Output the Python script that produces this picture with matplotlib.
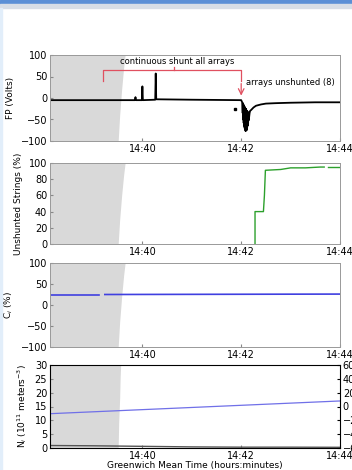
import matplotlib
matplotlib.use("Agg")
import matplotlib.pyplot as plt
from matplotlib.patches import Rectangle

# time in minutes after 14:00
xlim = (38.13, 44.0)
xticks = [40, 42, 44]
xticklabels = ["14:40", "14:42", "14:44"]

# shaded (eclipse) region boundary: (y fraction of axis, time)
shade_frac = [0.0, 0.3, 0.6, 0.85, 1.0]
shade_t1 = [39.51, 39.54, 39.58, 39.62, 39.65]
shade_t_other = [39.51, 39.52, 39.54, 39.55, 39.56]

# Panel 1: floating potential
fp_t = [38.13, 39.0, 39.85, 39.86, 39.87, 39.99, 40.0, 40.01, 40.26, 40.27, 40.28, 41.0, 42.0,
        42.02, 42.03, 42.035, 42.04, 42.045, 42.05, 42.055, 42.06, 42.065, 42.07, 42.075,
        42.08, 42.085, 42.09, 42.095, 42.10, 42.105, 42.11, 42.115, 42.12, 42.125, 42.13,
        42.135, 42.14, 42.145, 42.15, 42.155, 42.16, 42.17, 42.18, 42.2, 42.25, 42.3, 42.4,
        42.5, 42.7, 43.0, 43.5, 44.0]
fp_v = [-5, -5, -5, 2, -5, -5, 27, -5, -4, 57, -3, -4, -5,
        -10, -35, -12, -50, -15, -58, -18, -65, -20, -70, -22, -74, -25, -77, -25, -72,
        -28, -75, -30, -70, -32, -65, -34, -60, -35, -52, -33, -45, -35, -30,
        -28, -22, -18, -15, -13, -12, -11, -10, -10]
fp_outlier_t = [41.88]
fp_outlier_v = [-25]

# Panel 2: unshunted strings
us_t = [42.28, 42.28, 42.45, 42.47, 42.49, 42.8, 43.0, 43.3, 43.6, 43.68]
us_v = [0, 40, 40, 60, 91, 92, 94, 94, 95, 95]
us_t2 = [43.76, 44.0]
us_v2 = [95, 95]

# Panel 3: C_i
ci_t1 = [38.13, 39.13]
ci_v1 = [25, 25]
ci_t2 = [39.24, 44.0]
ci_v2 = [25, 26]

# Panel 4: N_i
ni_t = [38.13, 44.0]
ni_v = [12.4, 17.0]
ni2_t = [38.13, 39.0, 40.0, 41.0, 42.0, 43.0, 44.0]
ni2_v = [0.9, 0.8, 0.6, 0.4, 0.3, 0.3, 0.25]

fig = plt.figure(figsize=(3.52, 4.70), dpi=100)
fig.patches.append(Rectangle((0, 1 - 4/470), 1, 4/470, transform=fig.transFigure,
                             color="#5b8fd6", zorder=0))
fig.patches.append(Rectangle((0, 1 - 8/470), 1, 4/470, transform=fig.transFigure,
                             color="#d7dde6", zorder=0))
fig.patches.append(Rectangle((0, 0), 2/352, 1 - 8/470, transform=fig.transFigure,
                             color="#e2eefa", zorder=0))

L, W = 50/352, 290/352
boxes = [(55, 141), (163, 244), (263, 347), (365, 448)]
axes = []
for top, bot in boxes:
    ax = fig.add_axes([L, 1 - bot/470, W, (bot - top)/470])
    axes.append(ax)

fs = 7
for i, ax in enumerate(axes):
    ax.set_xlim(*xlim)
    ax.set_xticks(xticks)
    ax.set_xticklabels(xticklabels)
    ax.tick_params(direction="in", labelsize=fs, length=2, color="#888888", pad=2)
    for s in ax.spines.values():
        s.set_color("#999999")
        s.set_linewidth(0.7)
    tt = shade_t1 if i < 3 else shade_t_other
    ax.fill_betweenx(shade_frac, xlim[0], tt, color="#d9d9d9", lw=0,
                     transform=ax.get_xaxis_transform(), zorder=0)

ax1, ax2, ax3, ax4 = axes
ax1.plot(fp_t, fp_v, color="black", lw=1.3)
ax1.plot(fp_outlier_t, fp_outlier_v, "s", color="black", ms=1.5)
ax1.set_ylim(-100, 100)
ax1.set_yticks([-100, -50, 0, 50, 100])
ax1.set_ylabel("FP (Volts)", fontsize=6.5)
red = "#e05060"
ax1.plot([39.2, 39.2, 42.0, 42.0], [40, 64, 64, 40], color=red, lw=0.9)
ax1.plot([40.63, 40.63], [64, 73], color=red, lw=0.9)
ax1.text(40.7, 86, "continuous shunt all arrays", fontsize=6, ha="center", va="center")
ax1.annotate("", xy=(42.0, -1), xytext=(42.0, 40),
             arrowprops=dict(arrowstyle="->", color=red, lw=0.9))
ax1.text(42.1, 35, "arrays unshunted (8)", fontsize=6, ha="left", va="center")

ax2.plot(us_t, us_v, color="#2ca02c", lw=1.0)
ax2.plot(us_t2, us_v2, color="#2ca02c", lw=1.0)
ax2.set_ylim(0, 100)
ax2.set_yticks([0, 20, 40, 60, 80, 100])
ax2.set_ylabel("Unshunted Strings (%)", fontsize=6.5)

ax3.plot(ci_t1, ci_v1, color="#4040e0", lw=1.2)
ax3.plot(ci_t2, ci_v2, color="#4040e0", lw=1.2)
ax3.set_ylim(-100, 100)
ax3.set_yticks([-100, -50, 0, 50, 100])
ax3.set_ylabel("C$_i$ (%)", fontsize=6.5)

ax4.plot(ni_t, ni_v, color="#7070e8", lw=0.9)
ax4.plot(ni2_t, ni2_v, color="#555555", lw=1.0)
ax4.set_ylim(0, 30)
ax4.set_yticks([0, 5, 10, 15, 20, 25, 30])
ax4.set_ylabel("N$_i$ (10$^{11}$ meters$^{-3}$)", fontsize=6.5)
ax4.set_xlabel("Greenwich Mean Time (hours:minutes)", fontsize=6.5, labelpad=0)
ax4r = ax4.twinx()
ax4r.set_ylim(-60, 60)
ax4r.set_yticks([-60, -40, -20, 0, 20, 40, 60])
ax4r.tick_params(direction="in", labelsize=fs, length=2, pad=2)

fig.savefig("out.png", dpi=100)
